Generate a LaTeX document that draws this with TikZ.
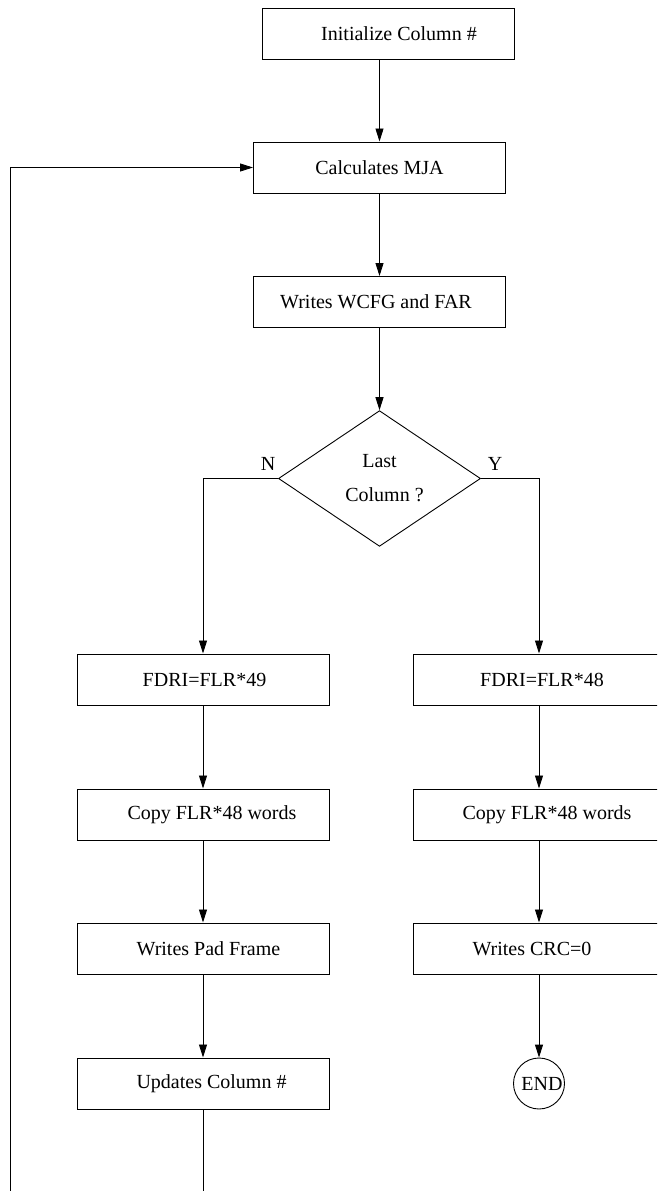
\documentclass[tikz,border=0pt]{standalone}
\usepackage{fontspec}
\setmainfont{Liberation Serif}
\usetikzlibrary{shapes.geometric,arrows.meta}
\begin{document}
\begin{tikzpicture}[x=1pt,y=-1pt,
  every node/.style={font=\fontsize{20}{34}\selectfont},
  stepbox/.style={draw,line width=1pt,minimum width=252pt,minimum height=51pt,inner sep=0pt},
  arr/.style={line width=0.9pt,-{Triangle[length=13pt,width=8pt]}},
  ln/.style={line width=0.9pt}]
\useasboundingbox (0,0) rectangle (657,1191);
\clip (0,0) rectangle (657,1191);
\fill[white] (0,0) rectangle (657,1191);
\node[stepbox] (init) at (388,33.5) {\hspace*{22pt}Initialize Column \#};
\node[stepbox] (calc) at (379.5,167.5) {Calculates MJA};
\node[stepbox] (wcfg) at (379.5,302) {Writes WCFG and FAR\hspace*{7pt}};
\node[draw,diamond,line width=0.9pt,minimum width=202pt,minimum height=135pt,inner sep=0pt,align=center] (dec) at (379.5,478.5) {Last\\\hspace*{10pt}Column ?};
\node[stepbox] (fl) at (203,679.5) {\hspace*{3pt}FDRI=FLR*49};
\node[stepbox] (cl) at (203,814.5) {\hspace*{18pt}Copy FLR*48 words};
\node[stepbox] (pl) at (203,948.5) {\hspace*{11pt}Writes Pad Frame};
\node[stepbox] (ul) at (203,1083.5) {\hspace*{17pt}Updates Column \#};
\node[stepbox] (fr) at (539,679.5) {\hspace*{6pt}FDRI=FLR*48};
\node[stepbox] (cr) at (539,814.5) {\hspace*{16pt}Copy FLR*48 words};
\node[stepbox] (wr) at (539,948.5) {Writes CRC=0\hspace*{14pt}};
\node[draw,circle,line width=0.9pt,minimum size=51pt,inner sep=0pt] (end) at (539,1083.5) {\hspace*{6pt}END};
\node (nlab) at (268,464) {N};
\node (ylab) at (495,464) {Y};
\coordinate (lb) at (203,1200);
\coordinate (lc) at (10,1200);
\draw[arr] (calc.north |- init.south) -- (calc.north);
\draw[arr] (calc.south) -- (wcfg.north);
\draw[arr] (dec.north |- wcfg.south) -- (dec.north);
\draw[arr] (dec.west) -| (fl.north);
\draw[arr] (dec.east) -| (fr.north);
\draw[arr] (fl.south) -- (cl.north);
\draw[arr] (cl.south) -- (pl.north);
\draw[arr] (pl.south) -- (ul.north);
\draw[arr] (fr.south) -- (cr.north);
\draw[arr] (cr.south) -- (wr.north);
\draw[arr] (wr.south) -- (end.north);
\draw[arr] (ul.south) -- (lb) -- (lc) |- (calc.west);
\end{tikzpicture}
\end{document}
